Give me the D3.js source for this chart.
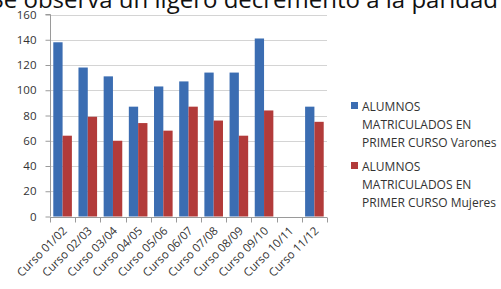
<!DOCTYPE html>
<html lang="es">
<head>
<meta charset="UTF-8" />
<title>Alumnos matriculados en primer curso</title>
<script src="https://d3js.org/d3.v7.min.js"></script>
<style>
	body { margin: 0; background: #fff; }
	svg { display: block; }
	text { font-family: "Open Sans", Arial, sans-serif; fill: #333; }
	.grid line { stroke: #d4d4d4; }
	.axis path, .axis line { stroke: #9a9a9a; }
</style>
</head>
<body>
<svg width="501" height="289"></svg>
<script>
const cursos = ['Curso 01/02', 'Curso 02/03', 'Curso 03/04', 'Curso 04/05', 'Curso 05/06',
	'Curso 06/07', 'Curso 07/08', 'Curso 08/09', 'Curso 09/10', 'Curso 10/11', 'Curso 11/12'];
const varones = [138, 118, 111, 87, 103, 107, 114, 114, 141, null, 87];
const mujeres = [64, 79, 60, 74, 68, 87, 76, 64, 84, null, 75];
const yTicks = [0, 20, 40, 60, 80, 100, 120, 140, 160];
const series = [
	{ name: ['ALUMNOS', 'MATRICULADOS EN', 'PRIMER CURSO Varones'], values: varones, color: '#3b6db2' },
	{ name: ['ALUMNOS', 'MATRICULADOS EN', 'PRIMER CURSO Mujeres'], values: mujeres, color: '#b23b3a' }
];

const svg = d3.select('svg');

// heading line of the document above the chart, cropped by the picture's top edge
svg.append('text')
	.attr('x', 498).attr('y', 7.5)
	.attr('text-anchor', 'end')
	.style('font-size', '24px')
	.style('fill', '#111')
	.text('Se observa un ligero decremento a la paridad');

const plotL = 50, plotR = 327, plotT = 14.5, plotB = 216.5;

const x = d3.scaleBand().domain(cursos).range([plotL, plotR]);
const x1 = d3.scaleBand().domain([0, 1]).range([0, x.bandwidth()]).paddingOuter(1 / 3 + 0.02);
const y = d3.scaleLinear().domain([0, 160]).range([plotB, plotT]);

svg.append('g').attr('class', 'grid')
	.selectAll('line').data(yTicks.slice(1)).enter().append('line')
	.attr('x1', plotL).attr('x2', plotR)
	.attr('y1', d => Math.round(y(d)) + 0.5).attr('y2', d => Math.round(y(d)) + 0.5);

series.forEach((s, i) => {
	svg.append('g').selectAll('rect')
		.data(s.values.map((v, j) => ({ v, c: cursos[j] })).filter(d => d.v != null))
		.enter().append('rect')
		.attr('x', d => x(d.c) + x1(i))
		.attr('width', x1.bandwidth())
		.attr('y', d => y(d.v))
		.attr('height', d => y(0) - y(d.v))
		.attr('fill', s.color);
});

const yAxis = svg.append('g').attr('class', 'axis')
	.attr('transform', `translate(${plotL + 0.5},0)`)
	.call(d3.axisLeft(y).tickValues(yTicks).tickSize(5).tickPadding(9));
yAxis.select('.domain').attr('d', `M-5,${plotT}H0V${plotB}`);
yAxis.selectAll('text').style('font-size', '11.5px').style('fill', '#333');

const xAxis = svg.append('g').attr('class', 'axis')
	.attr('transform', `translate(0,${Math.round(plotB) + 0.5})`)
	.call(d3.axisBottom(x).tickSize(0).tickFormat(''));
xAxis.select('.domain').attr('d', `M${plotL},0H${plotR}`);
xAxis.selectAll('.sep').data(cursos.concat(['end'])).enter().append('line')
	.attr('class', 'sep')
	.attr('x1', (d, i) => Math.round(plotL + i * x.step()) + 0.5)
	.attr('x2', (d, i) => Math.round(plotL + i * x.step()) + 0.5)
	.attr('y1', 0).attr('y2', 5);

svg.append('g').selectAll('text').data(cursos).enter().append('text')
	.attr('transform', d => `translate(${x(d) + x.bandwidth() / 2 + 5},${plotB + 15}) rotate(-45)`)
	.attr('text-anchor', 'end')
	.style('font-size', '11.5px')
	.text(d => d);

const legend = svg.append('g');
series.forEach((s, i) => {
	const g = legend.append('g').attr('transform', `translate(351,${111 + i * 60})`);
	g.append('rect').attr('x', 0).attr('y', -9).attr('width', 7).attr('height', 7).attr('fill', s.color);
	s.name.forEach((line, k) => {
		g.append('text').attr('x', 11).attr('y', k * 18)
			.style('font-size', '12px').text(line);
	});
});
</script>
</body>
</html>
